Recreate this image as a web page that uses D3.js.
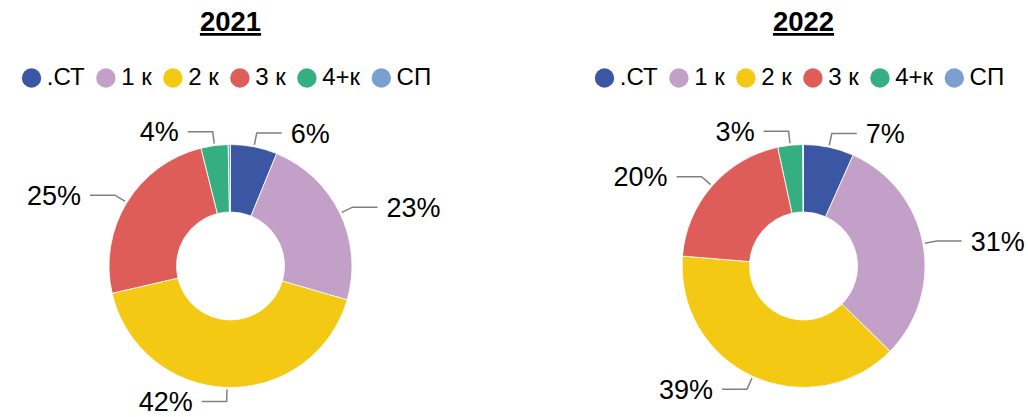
<!DOCTYPE html>
<html>
<head>
<meta charset="utf-8">
<script src="https://cdn.jsdelivr.net/npm/d3@7"></script>
<style>
  body { margin: 0; background: #fff; }
  text { font-family: "Liberation Sans", Arial, sans-serif; fill: #000; }
</style>
</head>
<body>
<script>
// - Two donut charts -

// Data
const categories = [".СТ", "1 к", "2 к", "3 к", "4+к", "СП"];
const years = ["2021", "2022"];
const values2021 = [6.2, 23.3, 41.9, 24.7, 3.6, 0.3];
const values2022 = [6.7, 30.7, 38.9, 20.3, 3.3, 0.1];
const colors = ["#3b57a4", "#c3a0c8", "#f3c913", "#df5d58", "#35af81", "#7a9fd2"];

// Size
const w = 1028,
      h = 417,
      cy = 266,
      outerR = 121.5,
      innerR = 54,
      itemGap = 11.5;

const svg = d3.select("body")
  .append("svg")
  .attr("width", w)
  .attr("height", h);

const color = d3.scaleOrdinal().domain(categories).range(colors);
const centerX = d3.scalePoint().domain(years).range([230.5, 803.5]);

const pie = d3.pie().sort(null).value(d => d.value);
const arc = d3.arc().innerRadius(innerR).outerRadius(outerR);

function drawPanel(year, values) {
  const cx = centerX(year);
  const data = categories.map((c, i) => ({ name: c, value: values[i] }));
  const total = d3.sum(values);
  const g = svg.append("g");

  // Title
  g.append("text")
    .attr("x", cx)
    .attr("y", 31)
    .attr("text-anchor", "middle")
    .attr("font-size", 27.5)
    .attr("font-weight", "bold")
    .style("text-decoration", "underline")
    .text(year);

  // Legend
  const legend = g.append("g");
  let x = 0;
  categories.forEach((c, i) => {
    const item = legend.append("g").attr("transform", "translate(" + x + ",0)");
    item.append("circle")
      .attr("cx", 9.7)
      .attr("cy", 78)
      .attr("r", 9.7)
      .attr("fill", color(c));
    const t = item.append("text")
      .attr("x", 25)
      .attr("y", 85)
      .attr("font-size", 24)
      .text(c);
    x += 25 + t.node().getComputedTextLength() + itemGap;
  });
  const legendW = x - itemGap;
  legend.attr("transform", "translate(" + (cx - 4 - legendW / 2) + ",0)");

  // Donut
  const donut = g.append("g").attr("transform", "translate(" + cx + "," + cy + ")");
  const arcs = pie(data);

  donut.selectAll("path")
    .data(arcs)
    .enter()
    .append("path")
    .attr("d", arc)
    .attr("fill", d => color(d.data.name))
    .attr("stroke", "#fff")
    .attr("stroke-width", 0.8);

  // Labels with leader lines
  const labeled = arcs.filter(d => d.data.value >= 1);
  labeled.forEach(d => {
    const a = (d.startAngle + d.endAngle) / 2;
    const side = Math.sin(a) >= 0 ? 1 : -1;
    const p0 = [Math.sin(a) * (outerR + 2), -Math.cos(a) * (outerR + 2)];
    const p1 = [Math.sin(a) * (outerR + 14), -Math.cos(a) * (outerR + 14)];
    const p2 = [p1[0] + side * 25, p1[1]];

    donut.append("polyline")
      .attr("points", [p0, p1, p2].map(p => p.join(",")).join(" "))
      .attr("fill", "none")
      .attr("stroke", "#808080")
      .attr("stroke-width", 1.5);

    donut.append("text")
      .attr("x", p2[0] + side * 9)
      .attr("y", p2[1])
      .attr("dy", "0.36em")
      .attr("text-anchor", side > 0 ? "start" : "end")
      .attr("font-size", 27)
      .text(Math.round(d.data.value / total * 100) + "%");
  });
}

drawPanel("2021", values2021);
drawPanel("2022", values2022);
</script>
</body>
</html>
